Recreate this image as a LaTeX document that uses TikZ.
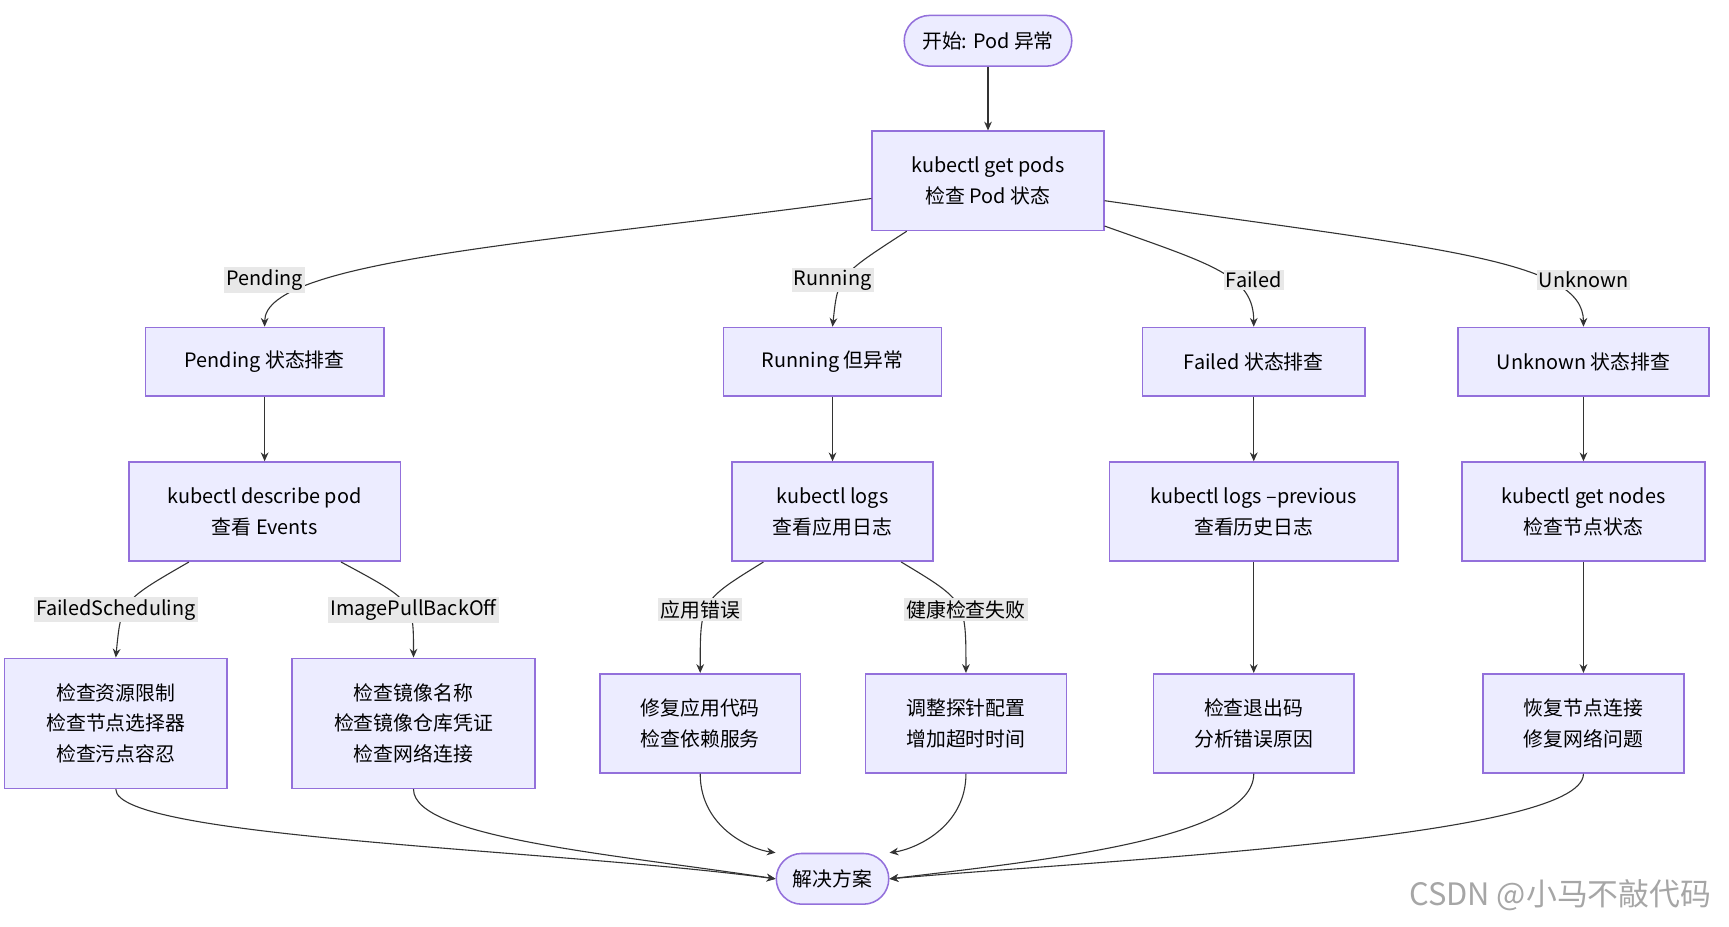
\documentclass[tikz,border=0pt]{standalone}
\usepackage{fontspec}
\setmainfont{Noto Sans CJK SC}
\usetikzlibrary{arrows.meta}
\definecolor{boxfill}{HTML}{ECECFF}
\definecolor{boxline}{HTML}{9370DB}
\definecolor{lblfill}{HTML}{E8E8E8}
\tikzset{
  box/.style={draw=boxline, fill=boxfill, line width=0.7pt, align=center,
    font=\fontsize{9}{14}\selectfont, inner sep=0pt},
  pill/.style={box, rounded corners=11.5pt},
  lbl/.style={fill=lblfill, inner sep=1pt, font=\fontsize{9}{11}\selectfont},
  arr/.style={draw=black!80, line width=0.5pt, -{Stealth[length=4pt,width=3.5pt]}}
}
\begin{document}
\begin{tikzpicture}[x=0.5pt,y=-0.5pt]
  \useasboundingbox (0,0) rectangle (1568,840);
  % Knoten
  \node[pill, minimum width=76pt, minimum height=23pt] (start) at (896,37) {开始: Pod 异常};
  \node[box, minimum width=105pt, minimum height=45pt] (get) at (896,164) {kubectl get pods\\检查 Pod 状态};
  \node[box, minimum width=108pt, minimum height=31pt] (pend) at (240,328) {Pending 状态排查};
  \node[box, minimum width=99pt, minimum height=31pt] (run) at (755,328) {Running 但异常};
  \node[box, minimum width=101pt, minimum height=31pt] (fail) at (1137,328) {Failed 状态排查};
  \node[box, minimum width=114pt, minimum height=31pt] (unk) at (1436,328) {Unknown 状态排查};
  \node[box, minimum width=123pt, minimum height=45pt] (desc) at (240,464) {kubectl describe pod\\查看 Events};
  \node[box, minimum width=91pt, minimum height=45pt] (logs) at (755,464) {kubectl logs\\查看应用日志};
  \node[box, minimum width=131pt, minimum height=45pt] (prev) at (1137,464) {kubectl logs --previous\\查看历史日志};
  \node[box, minimum width=110pt, minimum height=45pt] (nodes) at (1436,464) {kubectl get nodes\\检查节点状态};
  \node[box, minimum width=101pt, minimum height=59pt] (res) at (105,656) {检查资源限制\\检查节点选择器\\检查污点容忍};
  \node[box, minimum width=110pt, minimum height=59pt] (img) at (375,656) {检查镜像名称\\检查镜像仓库凭证\\检查网络连接};
  \node[box, minimum width=91pt, minimum height=45pt] (code) at (635,656) {修复应用代码\\检查依赖服务};
  \node[box, minimum width=91pt, minimum height=45pt] (probe) at (876,656) {调整探针配置\\增加超时时间};
  \node[box, minimum width=91pt, minimum height=45pt] (exit) at (1137,656) {检查退出码\\分析错误原因};
  \node[box, minimum width=91pt, minimum height=45pt] (net) at (1436,656) {恢复节点连接\\修复网络问题};
  \node[pill, minimum width=51pt, minimum height=23pt] (end) at (755,797) {解决方案};

  % Verbindungen
  \draw[arr] (start) -- (get);
  \draw[arr] (get.west |- 0,180) .. controls (500,220) and (240,235) .. (pend.north);
  \draw[arr] (get.south west) ++(32,0) .. controls (760,250) .. (run.north);
  \draw[arr] (get.east |- 0,205) .. controls (1100,240) and (1137,250) .. (fail.north);
  \draw[arr] (get.east |- 0,182) .. controls (1300,225) and (1436,235) .. (unk.north);
  \foreach \a/\b in {pend/desc, run/logs, fail/prev, unk/nodes, prev/exit, nodes/net}
    \draw[arr] (\a) -- (\b);
  \draw[arr] (desc.south west) ++(55,0) .. controls (110,545) .. (res.north);
  \draw[arr] (desc.south west) ++(193,0) .. controls (375,545) .. (img.north);
  \draw[arr] (logs.south west) ++(29,0) .. controls (635,545) .. (code.north);
  \draw[arr] (logs.south west) ++(154,0) .. controls (876,545) .. (probe.north);
  \draw[arr] (res.south) .. controls (105,760) and (500,770) .. (end.west);
  \draw[arr] (img.south) .. controls (375,760) and (560,775) .. (end.west);
  \draw[arr] (code.south) .. controls (635,750) and (680,770) .. (end.north west);
  \draw[arr] (probe.south) .. controls (876,750) and (830,770) .. (end.north east);
  \draw[arr] (exit.south) .. controls (1137,760) and (950,780) .. (end.east);
  \draw[arr] (net.south) .. controls (1436,760) and (1000,780) .. (end.east);

  % Beschriftungen
  \node[lbl] (lp) at (240,254) {Pending};
  \node[lbl] (lr) at (755,254) {Running};
  \node[lbl] (lf) at (1137,254) {Failed};
  \node[lbl] (lu) at (1436,254) {Unknown};
  \node[lbl] (lfs) at (105,553) {FailedScheduling};
  \node[lbl] (lip) at (375,553) {ImagePullBackOff};
  \node[lbl] (lae) at (635,553) {应用错误};
  \node[lbl] (lhc) at (876,553) {健康检查失败};

  \node[text=black!35, font=\fontsize{14}{16}\selectfont] (wm) at (1415,812) {CSDN @小马不敲代码};
\end{tikzpicture}
\end{document}
